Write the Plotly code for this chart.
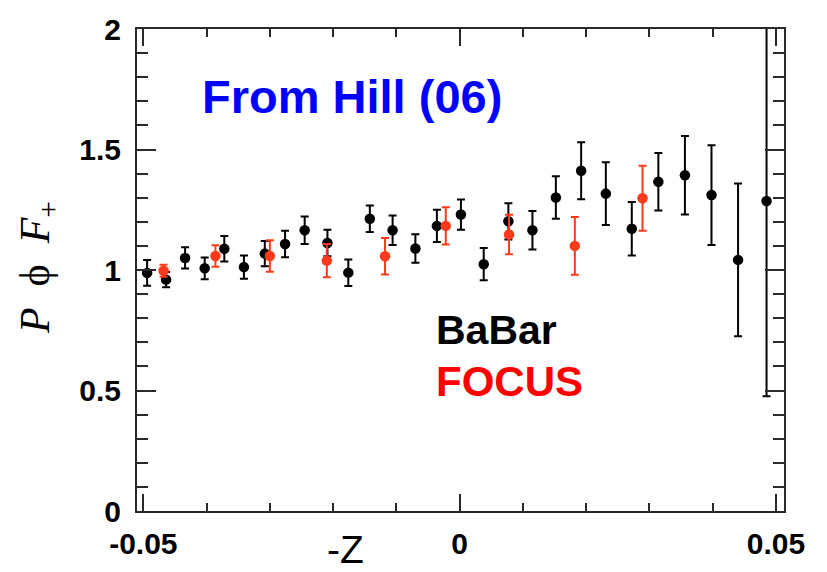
import plotly.graph_objects as go

# BaBar data
babar_x = [-0.0494, -0.0464, -0.0434, -0.0403, -0.0372, -0.0341, -0.0308, -0.0276, -0.0245,
           -0.0209, -0.0176, -0.0142, -0.0106, -0.0070, -0.0036, 0.0002, 0.0038, 0.0077,
           0.0115, 0.0152, 0.0192, 0.0231, 0.0272, 0.0314, 0.0356, 0.0398, 0.0440, 0.0485]
babar_y = [0.988, 0.960, 1.050, 1.007, 1.088, 1.012, 1.068, 1.108, 1.165,
           1.112, 0.989, 1.213, 1.165, 1.089, 1.183, 1.230, 1.024, 1.202,
           1.165, 1.301, 1.412, 1.317, 1.171, 1.366, 1.393, 1.311, 1.042, 1.286]
babar_err = [0.053, 0.032, 0.044, 0.045, 0.053, 0.048, 0.052, 0.055, 0.057,
             0.055, 0.055, 0.055, 0.061, 0.059, 0.067, 0.063, 0.067, 0.075,
             0.080, 0.088, 0.118, 0.130, 0.111, 0.119, 0.163, 0.207, 0.317, 0.810]

# FOCUS data
focus_x = [-0.0468, -0.0386, -0.0300, -0.0210, -0.0118, -0.0022, 0.0078, 0.0182, 0.0289]
focus_y = [0.997, 1.058, 1.058, 1.039, 1.057, 1.183, 1.147, 1.100, 1.298]
focus_err = [0.025, 0.045, 0.065, 0.069, 0.076, 0.077, 0.082, 0.120, 0.135]

x_ticks = [-0.05, 0, 0.05]
x_ticklabels = ["-0.05", "0", "0.05"]
y_ticks = [0, 0.5, 1, 1.5, 2]
y_ticklabels = ["0", "0.5", "1", "1.5", "2"]

RED = "#ff3a1c"
AXC = "#2a2a2a"

fig = go.Figure()
fig.add_trace(go.Scatter(
    x=babar_x, y=babar_y, mode="markers",
    marker=dict(color="black", size=10.5),
    error_y=dict(type="data", array=babar_err, color="black", thickness=2, width=4),
    showlegend=False,
))
fig.add_trace(go.Scatter(
    x=focus_x, y=focus_y, mode="markers",
    marker=dict(color=RED, size=10.5),
    error_y=dict(type="data", array=focus_err, color=RED, thickness=2, width=4),
    showlegend=False,
))

tickfont = dict(family="Liberation Sans, Arial", size=30, color="black", weight="bold")

fig.update_xaxes(
    range=[-0.051, 0.05126], tickvals=x_ticks, ticktext=x_ticklabels,
    ticks="inside", ticklen=17, tickwidth=2, tickcolor=AXC,
    showline=True, linecolor=AXC, linewidth=2, mirror="allticks",
    showgrid=False, zeroline=False, tickfont=tickfont, ticklabelstandoff=5,
    minor=dict(dtick=0.01, tick0=0, ticks="inside", ticklen=8, tickwidth=2, tickcolor=AXC, showgrid=False),
)
fig.update_yaxes(
    range=[0, 2], tickvals=y_ticks, ticktext=y_ticklabels,
    ticks="inside", ticklen=19, tickwidth=2, tickcolor=AXC,
    showline=True, linecolor=AXC, linewidth=2, mirror="allticks",
    showgrid=False, zeroline=False, tickfont=tickfont, ticklabelstandoff=8,
    minor=dict(dtick=0.1, tick0=0, ticks="inside", ticklen=11, tickwidth=2, tickcolor=AXC, showgrid=False),
)

def px_x(px):
    return (px - 137) / 647.0

def px_y(py):
    return (517 - py) / 494.0

annos = [
    dict(text="<b>From Hill (06)</b>", x=px_x(200), y=px_y(92), xanchor="left", yanchor="middle",
         font=dict(family="Liberation Sans, Arial", size=47, color="#0000ff")),
    dict(text="<b>BaBar</b>", x=px_x(434), y=px_y(332), xanchor="left", yanchor="middle",
         font=dict(family="Liberation Sans, Arial", size=41, color="black")),
    dict(text="<b>FOCUS</b>", x=px_x(434), y=px_y(384), xanchor="left", yanchor="middle",
         font=dict(family="Liberation Sans, Arial", size=42, color="#ff0000")),
    dict(text="-Z", x=px_x(345), y=px_y(556), xanchor="center", yanchor="middle",
         font=dict(family="Liberation Sans, Arial", size=39, color="black", weight=500)),
    dict(text="<i>P</i>  \u03d5  <i>F</i><sub>+</sub>", x=px_x(38), y=px_y(268), xanchor="center", yanchor="middle",
         textangle=-90, font=dict(family="Liberation Serif, Times New Roman", size=42, color="black")),
]
for a in annos:
    a.update(xref="paper", yref="paper", showarrow=False)
    fig.add_annotation(**a)

fig.update_layout(
    width=827, height=572, autosize=False,
    margin=dict(l=137, r=43, t=23, b=55),
    paper_bgcolor="white", plot_bgcolor="white",
)

fig.write_html("out.html")
